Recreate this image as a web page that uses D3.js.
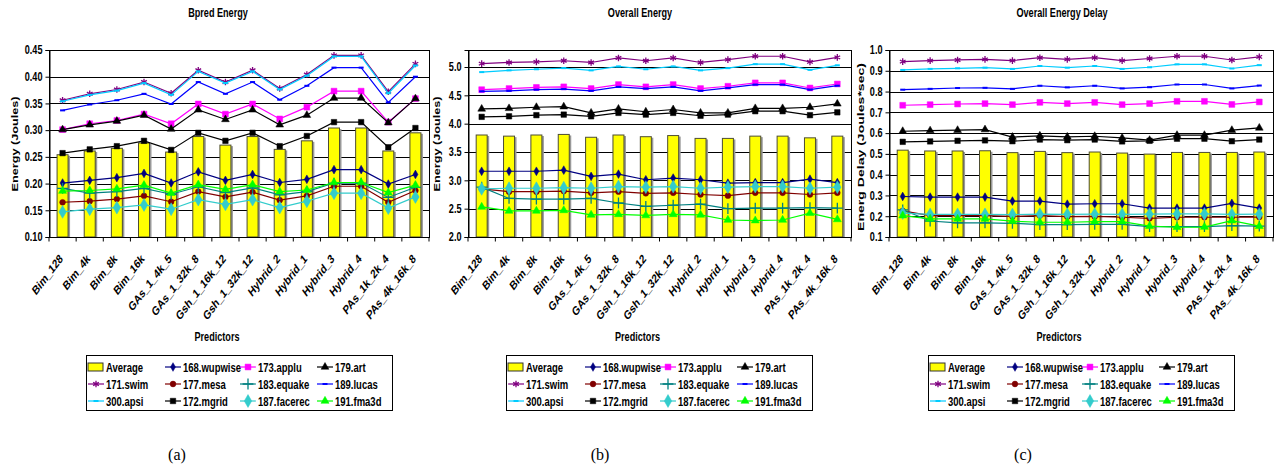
<!DOCTYPE html>
<html>
<head>
<meta charset="utf-8">
<script src="https://cdn.jsdelivr.net/npm/d3@7"></script>
<style>
  body { margin: 0; background: #fff; }
  text { font-family: "Liberation Sans", Arial, sans-serif; font-weight: bold; fill: #000; }
  text.cap { font-family: "Liberation Serif", "Times New Roman", serif; font-weight: normal; }
</style>
</head>
<body>
<svg id="fig" width="1275" height="473"></svg>
<script>
const categories = ["Bim_128", "Bim_4k", "Bim_8k", "Bim_16k", "GAs_1_4k_5", "GAs_1_32k_8",
  "Gsh_1_16k_12", "Gsh_1_32k_12", "Hybrid_2", "Hybrid_1", "Hybrid_3", "Hybrid_4",
  "PAs_1k_2k_4", "PAs_4k_16k_8"];

const benchmarks = ["168.wupwise", "173.applu", "179.art", "171.swim", "177.mesa", "183.equake",
  "189.lucas", "300.apsi", "172.mgrid", "187.facerec", "191.fma3d"];

// legend reading order (3 rows x 4 columns)
const legendOrder = ["Average", "168.wupwise", "173.applu", "179.art",
  "171.swim", "177.mesa", "183.equake", "189.lucas",
  "300.apsi", "172.mgrid", "187.facerec", "191.fma3d"];

// (a) Bpred Energy
const bpredAvg = [0.254, 0.261, 0.266, 0.276, 0.259, 0.288, 0.272, 0.288, 0.264, 0.280, 0.304, 0.304, 0.261, 0.295];
const bpredLines = [
  [0.201, 0.206, 0.211, 0.219, 0.201, 0.222, 0.206, 0.217, 0.202, 0.208, 0.226, 0.226, 0.199, 0.217],
  [0.301, 0.312, 0.318, 0.330, 0.312, 0.349, 0.330, 0.349, 0.321, 0.343, 0.373, 0.373, 0.315, 0.359],
  [0.301, 0.310, 0.317, 0.328, 0.302, 0.338, 0.320, 0.338, 0.310, 0.328, 0.360, 0.360, 0.314, 0.359],
  [0.356, 0.368, 0.376, 0.390, 0.369, 0.412, 0.390, 0.412, 0.378, 0.404, 0.440, 0.440, 0.372, 0.424],
  [0.165, 0.167, 0.171, 0.177, 0.166, 0.185, 0.175, 0.184, 0.169, 0.177, 0.195, 0.195, 0.165, 0.187],
  [0.191, 0.182, 0.185, 0.191, 0.180, 0.194, 0.183, 0.192, 0.179, 0.185, 0.201, 0.201, 0.174, 0.193],
  [0.337, 0.348, 0.356, 0.368, 0.349, 0.390, 0.368, 0.390, 0.357, 0.383, 0.417, 0.417, 0.352, 0.400],
  [0.354, 0.366, 0.374, 0.388, 0.366, 0.410, 0.388, 0.410, 0.376, 0.402, 0.438, 0.438, 0.369, 0.421],
  [0.257, 0.264, 0.270, 0.280, 0.263, 0.295, 0.280, 0.295, 0.270, 0.289, 0.315, 0.315, 0.268, 0.304],
  [0.147, 0.152, 0.155, 0.160, 0.152, 0.170, 0.161, 0.170, 0.155, 0.167, 0.182, 0.182, 0.154, 0.175],
  [0.186, 0.187, 0.190, 0.197, 0.182, 0.198, 0.189, 0.198, 0.185, 0.188, 0.202, 0.202, 0.183, 0.197]
];
const bpredTicks = [0.10, 0.15, 0.20, 0.25, 0.30, 0.35, 0.40, 0.45];

// (b) Overall Energy
const overallAvg = [3.80, 3.78, 3.80, 3.81, 3.76, 3.80, 3.77, 3.79, 3.74, 3.74, 3.78, 3.78, 3.75, 3.78];
const overallLines = [
  [3.16, 3.16, 3.16, 3.18, 3.07, 3.11, 3.01, 3.04, 3.01, 2.95, 2.96, 2.96, 3.02, 2.96],
  [4.60, 4.62, 4.64, 4.65, 4.62, 4.69, 4.65, 4.69, 4.62, 4.66, 4.72, 4.72, 4.63, 4.70],
  [4.26, 4.27, 4.29, 4.30, 4.19, 4.26, 4.21, 4.25, 4.19, 4.19, 4.27, 4.27, 4.29, 4.35],
  [5.06, 5.08, 5.09, 5.11, 5.08, 5.16, 5.11, 5.16, 5.08, 5.13, 5.19, 5.19, 5.09, 5.17],
  [2.85, 2.80, 2.80, 2.81, 2.78, 2.80, 2.77, 2.78, 2.75, 2.73, 2.78, 2.78, 2.75, 2.78],
  [2.88, 2.68, 2.67, 2.67, 2.68, 2.60, 2.54, 2.56, 2.58, 2.50, 2.51, 2.51, 2.52, 2.51],
  [4.57, 4.58, 4.60, 4.61, 4.58, 4.65, 4.62, 4.65, 4.58, 4.63, 4.69, 4.69, 4.60, 4.67],
  [4.91, 4.94, 4.96, 4.98, 4.94, 5.01, 4.96, 5.01, 4.94, 4.98, 5.05, 5.05, 4.95, 5.03],
  [4.12, 4.13, 4.15, 4.16, 4.13, 4.19, 4.16, 4.19, 4.14, 4.16, 4.22, 4.22, 4.15, 4.20],
  [2.85, 2.86, 2.86, 2.87, 2.86, 2.89, 2.88, 2.89, 2.86, 2.88, 2.89, 2.89, 2.86, 2.88],
  [2.53, 2.46, 2.46, 2.47, 2.39, 2.40, 2.38, 2.40, 2.39, 2.30, 2.29, 2.30, 2.42, 2.31]
];
const overallTicks = [2.0, 2.5, 3.0, 3.5, 4.0, 4.5, 5.0];

// (c) Overall Energy Delay
const delayAvg = [0.518, 0.514, 0.514, 0.515, 0.506, 0.512, 0.506, 0.509, 0.504, 0.499, 0.507, 0.507, 0.507, 0.509];
const delayLines = [
  [0.295, 0.292, 0.292, 0.292, 0.273, 0.273, 0.258, 0.260, 0.260, 0.239, 0.239, 0.239, 0.262, 0.239],
  [0.734, 0.737, 0.740, 0.742, 0.737, 0.748, 0.742, 0.748, 0.737, 0.742, 0.753, 0.753, 0.738, 0.750],
  [0.609, 0.612, 0.614, 0.617, 0.581, 0.587, 0.582, 0.585, 0.577, 0.566, 0.590, 0.590, 0.614, 0.625],
  [0.944, 0.949, 0.952, 0.955, 0.949, 0.963, 0.955, 0.963, 0.949, 0.959, 0.970, 0.970, 0.952, 0.967],
  [0.226, 0.203, 0.203, 0.203, 0.199, 0.203, 0.198, 0.199, 0.195, 0.190, 0.195, 0.195, 0.195, 0.196],
  [0.231, 0.177, 0.168, 0.168, 0.166, 0.160, 0.160, 0.161, 0.161, 0.150, 0.150, 0.150, 0.155, 0.152],
  [0.809, 0.813, 0.817, 0.818, 0.813, 0.828, 0.820, 0.828, 0.815, 0.821, 0.834, 0.834, 0.815, 0.829],
  [0.904, 0.909, 0.912, 0.915, 0.909, 0.923, 0.915, 0.923, 0.909, 0.917, 0.931, 0.931, 0.911, 0.927],
  [0.558, 0.560, 0.563, 0.565, 0.561, 0.569, 0.566, 0.569, 0.560, 0.563, 0.573, 0.573, 0.561, 0.569],
  [0.215, 0.209, 0.209, 0.209, 0.208, 0.210, 0.209, 0.210, 0.209, 0.210, 0.211, 0.211, 0.209, 0.210],
  [0.203, 0.187, 0.187, 0.187, 0.176, 0.171, 0.171, 0.174, 0.174, 0.152, 0.147, 0.148, 0.179, 0.152]
];
const delayTicks = [0.1, 0.2, 0.3, 0.4, 0.5, 0.6, 0.7, 0.8, 0.9, 1.0];

// look of each series: colour + marker kind
const look = {
  "168.wupwise": { color: "#000080", marker: "diamond", size: 22 },
  "173.applu":   { color: "#FF00FF", marker: "square", size: 34 },
  "179.art":     { color: "#000000", marker: "triangle", size: 26 },
  "171.swim":    { color: "#800080", marker: "asterisk", size: 30 },
  "177.mesa":    { color: "#800000", marker: "circle", size: 26 },
  "183.equake":  { color: "#008080", marker: "plus", size: 40 },
  "189.lucas":   { color: "#0000FF", marker: "dash", size: 0 },
  "300.apsi":    { color: "#00CCFF", marker: "dash", size: 0 },
  "172.mgrid":   { color: "#000000", marker: "square", size: 30 },
  "187.facerec": { color: "#33CCCC", marker: "diamond", size: 48 },
  "191.fma3d":   { color: "#00FF00", marker: "triangle", size: 28 }
};

const panels = [
  { title: "Bpred Energy", ylabel: "Energy (Joules)", ylabelLen: 95, ylabelX: 15, ylabelY: 144,
    avg: bpredAvg, lines: bpredLines, ticks: bpredTicks,
    domain: [0.10, 0.45], fmt: ".2f", x0: 49, x1: 429, titleX: 218, legendX: 86, capX: 177 },
  { title: "Overall Energy", ylabel: "Energy (Joules)", ylabelLen: 95, ylabelX: 437, ylabelY: 144,
    avg: overallAvg, lines: overallLines, ticks: overallTicks,
    domain: [2.0, 5.3], fmt: ".1f", x0: 468, x1: 851, titleX: 640, legendX: 506, capX: 600 },
  { title: "Overall Energy Delay", ylabel: "Energ Delay (Joules*sec)", ylabelLen: 168, ylabelX: 861, ylabelY: 147,
    avg: delayAvg, lines: delayLines, ticks: delayTicks,
    domain: [0.1, 1.0], fmt: ".1f", x0: 889, x1: 1273, titleX: 1062, legendX: 928, capX: 1023 }
];
const captions = ["(a)", "(b)", "(c)"];

const plotTop = 50, plotBottom = 237;
const narrow = 0.76;   // the original figure is squeezed horizontally
const svg = d3.select("#fig");

// text squeezed in screen x (applied after any rotation, like the original)
function label(parent, x, y, str, size, opts = {}) {
  const rot = opts.rotate || 0;
  return parent.append("text")
    .attr("transform", `translate(${x},${y}) scale(${narrow},1) rotate(${rot})`)
    .attr("text-anchor", opts.anchor || "start")
    .attr("dy", opts.dy || null)
    .style("font-size", size + "px")
    .text(str);
}

function drawMarker(g, kind, size, color, x, y) {
  if (kind === "dash") {
    g.append("rect").attr("x", x - 2.5).attr("y", y - 1).attr("width", 5).attr("height", 2).attr("fill", color);
    return;
  }
  const types = { diamond: d3.symbolDiamond, square: d3.symbolSquare, triangle: d3.symbolTriangle,
    circle: d3.symbolCircle, plus: d3.symbolPlus, asterisk: d3.symbolAsterisk };
  const stroked = kind === "plus" || kind === "asterisk";
  g.append("path")
    .attr("d", d3.symbol(types[kind], size)())
    .attr("transform", `translate(${x},${y})`)
    .attr("fill", stroked ? "none" : color)
    .attr("stroke", color)
    .attr("stroke-width", stroked ? 1.3 : 0.5);
}

panels.forEach((p, pi) => {
  const g = svg.append("g");
  const x = d3.scaleBand().domain(categories).range([p.x0, p.x1]);
  const y = d3.scaleLinear().domain(p.domain).range([plotBottom, plotTop]);
  const cx = d => x(d) + x.bandwidth() / 2;

  // title
  label(g, p.titleX, 17, p.title, 12, { anchor: "middle" });

  // gridlines
  g.append("g").selectAll("line").data(p.ticks).join("line")
    .attr("x1", p.x0).attr("x2", p.x1)
    .attr("y1", d => Math.round(y(d)) + 0.5).attr("y2", d => Math.round(y(d)) + 0.5)
    .attr("stroke", "#000").attr("stroke-width", 1);

  // frame
  g.append("rect").attr("x", p.x0 + 0.5).attr("y", plotTop + 0.5)
    .attr("width", p.x1 - p.x0).attr("height", plotBottom - plotTop)
    .attr("fill", "none").attr("stroke", "#000").attr("stroke-width", 1);

  // bars (Average) with the grey drop shadow of the original
  g.append("g").selectAll("rect").data(p.avg).join("rect")
    .attr("x", (d, i) => cx(categories[i]) - 3.5)
    .attr("y", d => y(d) + 1)
    .attr("width", 11)
    .attr("height", d => plotBottom - y(d) - 1)
    .attr("fill", "#999");
  g.append("g").selectAll("rect").data(p.avg).join("rect")
    .attr("x", (d, i) => cx(categories[i]) - 5.5)
    .attr("y", d => y(d))
    .attr("width", 11)
    .attr("height", d => plotBottom - y(d))
    .attr("fill", "#FFFF00").attr("stroke", "#4d4d33").attr("stroke-width", 1);

  // lines + markers
  benchmarks.forEach((b, si) => {
    const vals = p.lines[si];
    const L = look[b];
    const line = d3.line().x((d, i) => cx(categories[i])).y(d => y(d));
    g.append("path").datum(vals).attr("d", line)
      .attr("fill", "none").attr("stroke", L.color).attr("stroke-width", 1.2);
    const mg = g.append("g");
    vals.forEach((v, i) => drawMarker(mg, L.marker, L.size, L.color, cx(categories[i]), y(v)));
  });

  // y axis
  const ya = g.append("g").attr("transform", `translate(${p.x0 + 0.5},0)`)
    .call(d3.axisLeft(y).tickValues(p.ticks).tickFormat(d3.format(p.fmt)).tickSize(4).tickPadding(4));
  ya.select(".domain").attr("stroke", "#000");
  ya.selectAll(".tick line").attr("stroke", "#000");
  ya.attr("font-family", null);
  ya.selectAll("text").style("font-size", "12px")
    .attr("x", 0).attr("transform", `translate(-7,0) scale(${narrow},1)`);

  // x axis (ticks at category boundaries)
  const xa = g.append("g").attr("transform", `translate(0,${plotBottom + 0.5})`);
  xa.append("line").attr("x1", p.x0).attr("x2", p.x1).attr("stroke", "#000");
  xa.selectAll("line.t").data(d3.range(categories.length + 1)).join("line").attr("class", "t")
    .attr("x1", i => p.x0 + i * x.step()).attr("x2", i => p.x0 + i * x.step())
    .attr("y1", 0).attr("y2", 4).attr("stroke", "#000");
  categories.forEach(c => label(xa, cx(c) + 1, 22, c, 12.5, { anchor: "end", rotate: -45 }));

  // axis titles
  g.append("text")
    .attr("transform", `translate(${p.ylabelX},${p.ylabelY}) scale(${narrow},1) rotate(-90)`)
    .attr("text-anchor", "middle").attr("dy", "0.35em")
    .attr("textLength", p.ylabelLen).attr("lengthAdjust", "spacingAndGlyphs")
    .style("font-size", "12.5px").text(p.ylabel);
  label(g, (p.x0 + p.x1) / 2 - 22, 341, "Predictors", 12, { anchor: "middle" });

  // legend
  const lg = g.append("g").attr("transform", `translate(${p.legendX},355)`);
  lg.append("rect").attr("x", 0.5).attr("y", 0.5).attr("width", 306).attr("height", 55)
    .attr("fill", "#fff").attr("stroke", "#000").attr("stroke-width", 1);
  const colX = [2, 79, 154, 231];
  const rowY = [12, 29, 46];
  legendOrder.forEach((name, k) => {
    const lx = colX[k % 4], ly = rowY[Math.floor(k / 4)];
    if (name === "Average") {
      lg.append("rect").attr("x", lx).attr("y", ly - 4).attr("width", 15).attr("height", 8)
        .attr("fill", "#FFFF00").attr("stroke", "#333").attr("stroke-width", 1);
    } else {
      const L = look[name];
      lg.append("line").attr("x1", lx).attr("x2", lx + 16).attr("y1", ly).attr("y2", ly)
        .attr("stroke", L.color).attr("stroke-width", 1.2);
      drawMarker(lg, L.marker, L.size, L.color, lx + 8, ly);
    }
    label(lg, lx + 18, ly, name, 12.5, { dy: "0.36em" });
  });

  // caption
  g.append("text").attr("class", "cap").attr("x", p.capX).attr("y", 460)
    .attr("text-anchor", "middle").style("font-size", "16px").text(captions[pi]);
});
</script>
</body>
</html>
